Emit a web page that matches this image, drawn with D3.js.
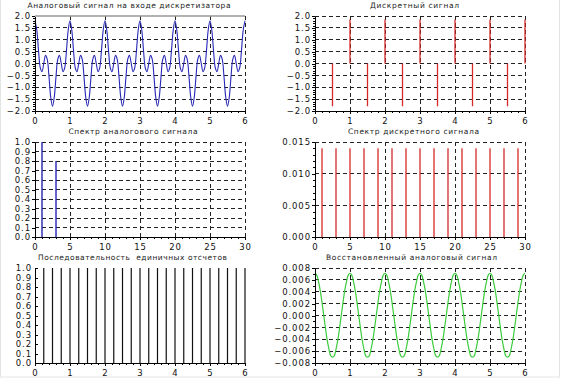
<!DOCTYPE html>
<html><head><meta charset="utf-8">
<script src="https://cdn.jsdelivr.net/npm/d3@7"></script>
<style>body{margin:0;background:#fff} svg{display:block}</style>
</head><body><svg id="c" width="561" height="379"></svg>
<script>
// ---------- data ----------
const analogStep = 0.05;
const analogValues = [
 1.80, 1.42, 0.56,-0.17,-0.34, 0.00, 0.34, 0.17,-0.56,-1.42,-1.80,-1.42,-0.56, 0.17, 0.34, 0.00,-0.34,-0.17, 0.56, 1.42,
 1.80, 1.42, 0.56,-0.17,-0.34, 0.00, 0.34, 0.17,-0.56,-1.42,-1.80,-1.42,-0.56, 0.17, 0.34, 0.00,-0.34,-0.17, 0.56, 1.42,
 1.80, 1.42, 0.56,-0.17,-0.34, 0.00, 0.34, 0.17,-0.56,-1.42,-1.80,-1.42,-0.56, 0.17, 0.34, 0.00,-0.34,-0.17, 0.56, 1.42,
 1.80, 1.42, 0.56,-0.17,-0.34, 0.00, 0.34, 0.17,-0.56,-1.42,-1.80,-1.42,-0.56, 0.17, 0.34, 0.00,-0.34,-0.17, 0.56, 1.42,
 1.80, 1.42, 0.56,-0.17,-0.34, 0.00, 0.34, 0.17,-0.56,-1.42,-1.80,-1.42,-0.56, 0.17, 0.34, 0.00,-0.34,-0.17, 0.56, 1.42,
 1.80, 1.42, 0.56,-0.17,-0.34, 0.00, 0.34, 0.17,-0.56,-1.42,-1.80,-1.42,-0.56, 0.17, 0.34, 0.00,-0.34,-0.17, 0.56, 1.42,
 1.80];
const discreteTimes  = [0.5, 1, 1.5, 2, 2.5, 3, 3.5, 4, 4.5, 5, 5.5, 6];
const discreteValues = [-1.8, 1.85, -1.8, 1.85, -1.8, 1.85, -1.8, 1.85, -1.8, 1.85, -1.8, 1.85];
const specAnalogFreq = [1, 3];
const specAnalogAmp  = [1.0, 0.8];
const specDiscFreq = [1, 3, 5, 7, 9, 11, 13, 15, 17, 19, 21, 23, 25, 27, 29];
const specDiscAmp  = [0.014, 0.014, 0.014, 0.014, 0.014, 0.014, 0.014, 0.014, 0.014, 0.014, 0.014, 0.014, 0.014, 0.014, 0.014];
const unitTimes  = [0.25,0.5,0.75,1,1.25,1.5,1.75,2,2.25,2.5,2.75,3,3.25,3.5,3.75,4,4.25,4.5,4.75,5,5.25,5.5,5.75,6];
const unitValues = [1,1,1,1,1,1,1,1,1,1,1,1,1,1,1,1,1,1,1,1,1,1,1,1];
const reconStep = 0.05;
const reconValues = [
 0.0071,0.0068,0.0057,0.0042,0.0022,0.0000,-0.0022,-0.0042,-0.0057,-0.0068,-0.0070,-0.0068,-0.0057,-0.0042,-0.0022,0.0000,0.0022,0.0042,0.0057,0.0068,
 0.0071,0.0068,0.0057,0.0042,0.0022,0.0000,-0.0022,-0.0042,-0.0057,-0.0068,-0.0070,-0.0068,-0.0057,-0.0042,-0.0022,0.0000,0.0022,0.0042,0.0057,0.0068,
 0.0071,0.0068,0.0057,0.0042,0.0022,0.0000,-0.0022,-0.0042,-0.0057,-0.0068,-0.0070,-0.0068,-0.0057,-0.0042,-0.0022,0.0000,0.0022,0.0042,0.0057,0.0068,
 0.0071,0.0068,0.0057,0.0042,0.0022,0.0000,-0.0022,-0.0042,-0.0057,-0.0068,-0.0070,-0.0068,-0.0057,-0.0042,-0.0022,0.0000,0.0022,0.0042,0.0057,0.0068,
 0.0071,0.0068,0.0057,0.0042,0.0022,0.0000,-0.0022,-0.0042,-0.0057,-0.0068,-0.0070,-0.0068,-0.0057,-0.0042,-0.0022,0.0000,0.0022,0.0042,0.0057,0.0068,
 0.0071,0.0068,0.0057,0.0042,0.0022,0.0000,-0.0022,-0.0042,-0.0057,-0.0068,-0.0070,-0.0068,-0.0057,-0.0042,-0.0022,0.0000,0.0022,0.0042,0.0057,0.0068,
 0.0071];

const titles = [
 "Аналоговый сигнал на входе дискретизатора",
 "Дискретный сигнал",
 "Спектр аналогового сигнала",
 "Спектр дискретного сигнала",
 "Последовательность  единичных отсчетов",
 "Восстановленный аналоговый сигнал"
];
const timeTicks = [0,1,2,3,4,5,6];
const freqTicks = [0,5,10,15,20,25,30];
const signalTicks = [-2.0,-1.5,-1.0,-0.5,0.0,0.5,1.0,1.5,2.0];
const unitTicks = [0,0.1,0.2,0.3,0.4,0.5,0.6,0.7,0.8,0.9,1.0];
const specDiscTicks = [0,0.005,0.010,0.015];
const reconTicks = [-0.008,-0.006,-0.004,-0.002,0.000,0.002,0.004,0.006,0.008];

// ---------- drawing ----------
const svg = d3.select('#c');
const W = 210, H = 95;
const FONT = "'DejaVu Sans', sans-serif";
const timeMinor = d3.range(0, 6.0001, 0.2).map(v => +v.toFixed(2));
const freqMinor = d3.range(0, 31, 1);

svg.append('rect').attr('x',0.5).attr('y',-1).attr('width',559).attr('height',378)
  .attr('fill','none').attr('stroke','#e4e4e4');

function panel(o){
  const g = svg.append('g');
  const x = d3.scaleLinear().domain(o.xd).range([o.left, o.left + W]);
  const y = d3.scaleLinear().domain(o.yd).range([o.top + H, o.top]);
  const grid = g.append('g').attr('stroke','#222').attr('stroke-width',1)
    .attr('stroke-dasharray','4,3').attr('shape-rendering','crispEdges');
  (o.gx||[]).forEach(v => grid.append('line')
    .attr('x1', x(v)).attr('x2', x(v)).attr('y1', o.top + H).attr('y2', o.top));
  (o.gy||[]).forEach(v => grid.append('line')
    .attr('y1', y(v)).attr('y2', y(v)).attr('x1', o.left).attr('x2', o.left + W));
  if (o.topSolid) g.append('line').attr('x1',o.left).attr('x2',o.left+W)
    .attr('y1',o.top).attr('y2',o.top).attr('stroke','#999').attr('stroke-width',1.5);

  o.draw(g, x, y);

  const style = sel => {
    sel.attr('font-size', null).attr('font-family', null);
    sel.selectAll('.domain, .tick line').attr('stroke','#000').attr('shape-rendering','crispEdges');
    sel.selectAll('text').attr('fill','#111').style('font-family',FONT)
      .style('font-size','8.5px').style('letter-spacing','0.9px');
  };
  if (o.xm) {
    const m = g.append('g').attr('transform',`translate(0,${o.top+H})`)
      .call(d3.axisBottom(x).tickValues(o.xm).tickFormat('').tickSize(2).tickSizeOuter(0));
    m.select('.domain').remove(); style(m);
  }
  if (o.ym) {
    const m = g.append('g').attr('transform',`translate(${o.left},0)`)
      .call(d3.axisLeft(y).tickValues(o.ym).tickFormat('').tickSize(o.yIn ? -2 : 2).tickSizeOuter(0));
    m.select('.domain').remove(); style(m);
  }
  const bx = g.append('g').attr('transform',`translate(0,${o.top+H})`)
    .call(d3.axisBottom(x).tickValues(o.xt).tickFormat(d3.format('d')).tickSize(3).tickSizeOuter(0).tickPadding(4));
  style(bx);
  const ly = g.append('g').attr('transform',`translate(${o.left},0)`)
    .call(d3.axisLeft(y).tickValues(o.yt).tickFormat(d3.format(o.yf)).tickSize(o.yIn ? -3 : 3).tickSizeOuter(0).tickPadding(o.yIn ? 3 : 1));
  style(ly);

  g.append('text').text(o.title)
    .attr('x', o.tx).attr('y', o.top - 8.5).attr('text-anchor','middle')
    .attr('textLength', o.tl).attr('lengthAdjust','spacing')
    .style('white-space','pre')
    .style('font-family', FONT).style('font-size','7.5px').attr('fill','#222');
}

function stems(g, x, y, xs, vs, color, w){
  g.append('g').selectAll('line').data(xs.map((t,i)=>[t, vs[i]])).join('line')
    .attr('x1', d => x(d[0])).attr('x2', d => x(d[0]))
    .attr('y1', y(0)).attr('y2', d => y(d[1]))
    .attr('stroke', color).attr('stroke-width', w);
}

const rows = [16, 142, 268];
const cols = [35, 315];

panel({ left: cols[0], top: rows[0], xd:[0,6], yd:[-2,2], xt: timeTicks, xm: timeMinor,
  yt: signalTicks, ym: d3.range(-2, 2.001, 0.1).map(v=>+v.toFixed(1)), yf: '.1f',
  gx:[1,2,3,4,5,6], gy:[-1.5,-1,-0.5,0,0.5,1,1.5], topSolid:true,
  title: titles[0], tx: 129, tl: 203,
  draw: (g,x,y) => {
    g.append('path').datum(analogValues.map((v,i)=>[i*analogStep, v]))
      .attr('fill','none').attr('stroke','#2828b8').attr('stroke-width',1.1)
      .attr('d', d3.line().x(d=>x(d[0])).y(d=>y(d[1])).curve(d3.curveCatmullRom));
  }});

panel({ left: cols[1], top: rows[0], xd:[0,6], yd:[-2,2], xt: timeTicks, xm: timeMinor,
  yt: signalTicks, ym: d3.range(-2, 2.001, 0.1).map(v=>+v.toFixed(1)), yf: '.1f',
  gx:[1,2,3,4,5,6], gy:[-1.5,-1,-0.5,0,0.5,1,1.5,2],
  title: titles[1], tx: 414.5, tl: 89,
  draw: (g,x,y) => stems(g,x,y,discreteTimes,discreteValues,'#d42a2a',1.3) });

panel({ left: cols[0], top: rows[1], xd:[0,30], yd:[0,1], xt: freqTicks, xm: freqMinor,
  yt: unitTicks, yf: '.1f',
  gx:[5,10,15,20,25,30], gy:[0.1,0.2,0.3,0.4,0.5,0.6,0.7,0.8,0.9,1.0],
  title: titles[2], tx: 133, tl: 129,
  draw: (g,x,y) => stems(g,x,y,specAnalogFreq,specAnalogAmp,'#2424b4',1.4) });

panel({ left: cols[1], top: rows[1], xd:[0,30], yd:[0,0.015], xt: freqTicks, xm: freqMinor,
  yt: specDiscTicks, ym: d3.range(0, 0.0151, 0.001).map(v=>+v.toFixed(3)), yf: '.3f',
  gx:[10,20,30], gy:[0.005,0.010,0.015],
  title: titles[3], tx: 413.5, tl: 131,
  draw: (g,x,y) => stems(g,x,y,specDiscFreq,specDiscAmp,'#d42a2a',1.3) });

panel({ left: cols[0], top: rows[2], xd:[0,6], yd:[0,1], xt: timeTicks, xm: timeMinor,
  yt: unitTicks, yf: '.1f', yIn: true,
  title: titles[4], tx: 132.5, tl: 189,
  draw: (g,x,y) => stems(g,x,y,unitTimes,unitValues,'#111',1.2) });

panel({ left: cols[1], top: rows[2], xd:[0,6], yd:[-0.008,0.008], xt: timeTicks, xm: timeMinor,
  yt: reconTicks, ym: d3.range(-0.008, 0.00801, 0.001).map(v=>+v.toFixed(3)), yf: '.3f',
  gx:[1,2,3,4,5,6], gy:[-0.006,-0.004,-0.002,0,0.002,0.004,0.006,0.008],
  title: titles[5], tx: 411.5, tl: 171,
  draw: (g,x,y) => {
    g.append('path').datum(reconValues.map((v,i)=>[i*reconStep, v]))
      .attr('fill','none').attr('stroke','#3ccc3c').attr('stroke-width',1.2)
      .attr('d', d3.line().x(d=>x(d[0])).y(d=>y(d[1])).curve(d3.curveCatmullRom));
  }});
</script></body></html>
